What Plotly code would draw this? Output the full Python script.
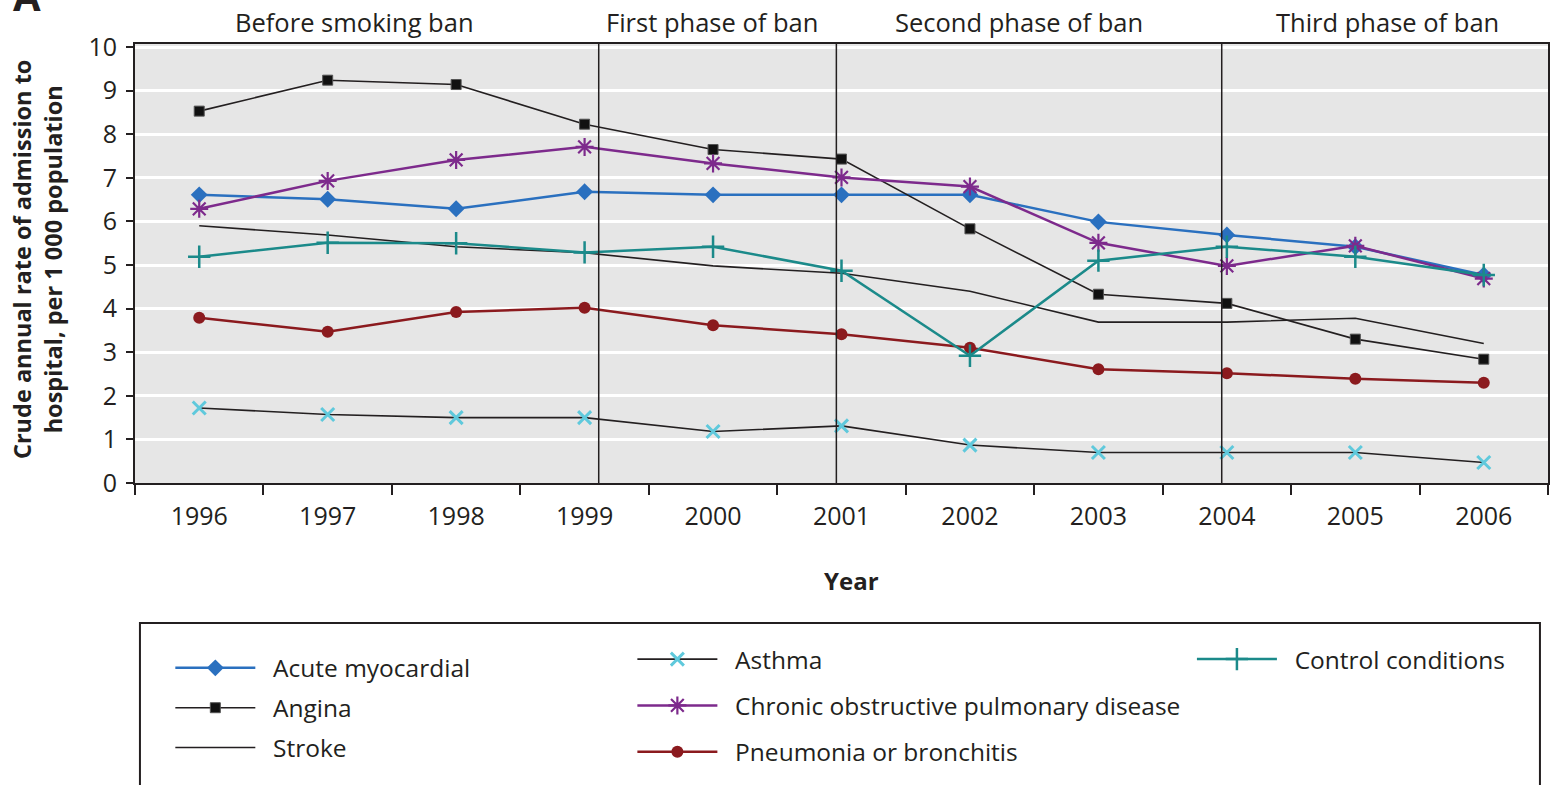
import plotly.graph_objects as go

years = [1996, 1997, 1998, 1999, 2000, 2001, 2002, 2003, 2004, 2005, 2006]

acute_myocardial = [6.61, 6.51, 6.29, 6.68, 6.61, 6.61, 6.61, 5.99, 5.69, 5.42, 4.77]
angina = [8.53, 9.24, 9.14, 8.23, 7.65, 7.43, 5.83, 4.33, 4.12, 3.30, 2.84]
stroke = [5.90, 5.69, 5.42, 5.28, 4.98, 4.81, 4.40, 3.69, 3.69, 3.78, 3.20]
asthma = [1.72, 1.57, 1.50, 1.50, 1.18, 1.31, 0.87, 0.70, 0.70, 0.70, 0.47]
copd = [6.29, 6.93, 7.41, 7.71, 7.33, 7.01, 6.80, 5.51, 4.98, 5.44, 4.69]
pneumonia = [3.79, 3.47, 3.92, 4.02, 3.62, 3.41, 3.10, 2.61, 2.52, 2.39, 2.30]
control = [5.19, 5.51, 5.50, 5.29, 5.42, 4.87, 2.92, 5.10, 5.42, 5.19, 4.77]

phase_lines = [1999.11, 2000.96, 2003.96]
phase_labels = ["Before smoking ban", "First phase of ban", "Second phase of ban", "Third phase of ban"]
phase_label_x = [1997.21, 1999.99, 2002.38, 2005.25]

FONT = "Open Sans"
TXT = "#231f20"
PAD = "\u00a0\u00a0"

fig = go.Figure()

# column 1 of the legend
fig.add_trace(go.Scatter(x=years, y=acute_myocardial, name=PAD + "Acute myocardial", mode="lines+markers",
                         line=dict(color="#2a70bf", width=2.5),
                         marker=dict(symbol="diamond", size=13, color="#2a70bf"),
                         legend="legend", legendgroup="a"))
fig.add_trace(go.Scatter(x=years, y=angina, name=PAD + "Angina", mode="lines+markers",
                         line=dict(color="#231f20", width=1.6),
                         marker=dict(symbol="square", size=10, color="#111111",
                                     line=dict(color="#555555", width=1)),
                         legend="legend", legendgroup="b"))
fig.add_trace(go.Scatter(x=years, y=stroke, name=PAD + "Stroke", mode="lines",
                         line=dict(color="#231f20", width=1.6),
                         legend="legend", legendgroup="c"))

# column 2
fig.add_trace(go.Scatter(x=years, y=asthma, name=PAD + "Asthma", mode="lines+markers",
                         line=dict(color="#231f20", width=1.6),
                         marker=dict(symbol="x-thin-open", size=13, color="#5fc9dc",
                                     line=dict(color="#5fc9dc", width=3)),
                         legend="legend2", legendgroup="d"))
fig.add_trace(go.Scatter(x=years, y=copd, name=PAD + "Chronic obstructive pulmonary disease",
                         mode="lines+markers",
                         line=dict(color="#7d2a8c", width=2.5),
                         marker=dict(symbol="asterisk-open", size=15, color="#7d2a8c",
                                     line=dict(color="#7d2a8c", width=2.2)),
                         legend="legend2", legendgroup="e"))
fig.add_trace(go.Scatter(x=years, y=pneumonia, name=PAD + "Pneumonia or bronchitis", mode="lines+markers",
                         line=dict(color="#8b1a1e", width=2.5),
                         marker=dict(symbol="circle", size=12, color="#8b1a1e"),
                         legend="legend2", legendgroup="f"))

# column 3
fig.add_trace(go.Scatter(x=years, y=control, name=PAD + "Control conditions", mode="lines+markers",
                         line=dict(color="#1b8a8a", width=2.5),
                         marker=dict(symbol="cross-thin-open", size=16, color="#1b8a8a",
                                     line=dict(color="#1b8a8a", width=2.5)),
                         legend="legend3", legendgroup="g"))

for xv in phase_lines:
    fig.add_shape(type="line", x0=xv, x1=xv, y0=0, y1=1, xref="x", yref="y domain",
                  line=dict(color="#231f20", width=1.5), layer="above")

for lab, xv in zip(phase_labels, phase_label_x):
    fig.add_annotation(text=lab, x=xv, y=1.05, xref="x", yref="paper", showarrow=False,
                       xanchor="center", yanchor="middle",
                       font=dict(size=25.5, color=TXT, family=FONT))

# legend frame (runs off the bottom of the page)
fig.add_shape(type="rect", x0=0.0035, x1=0.9943, y0=-0.319, y1=-0.75, xref="paper", yref="paper",
              line=dict(color="#231f20", width=2), fillcolor="rgba(0,0,0,0)")

fig.add_annotation(text="Crude annual rate of admission to<br>hospital, per 1 000 population",
                   x=-0.0686, y=0.508, xref="paper", yref="paper", textangle=-90, showarrow=False,
                   xanchor="center", yanchor="middle",
                   font=dict(size=23.5, color=TXT, family=FONT, weight="bold"))
fig.add_annotation(text="Year", x=0.507, y=-0.221, xref="paper", yref="paper", showarrow=False,
                   xanchor="center", yanchor="middle",
                   font=dict(size=24, color=TXT, family=FONT, weight="bold"))
# panel letter, mostly above the top edge as in the source figure
fig.add_annotation(text="A", x=-0.088, y=1.043, xref="paper", yref="paper", showarrow=False,
                   xanchor="left", yanchor="bottom",
                   font=dict(size=40, color=TXT, family=FONT, weight="bold"))

legend_common = dict(font=dict(size=24.5, color=TXT, family=FONT), bgcolor="rgba(0,0,0,0)",
                     itemwidth=80, xanchor="left", yanchor="top")

fig.update_layout(
    width=1555, height=785,
    margin=dict(l=135, r=7, t=44, b=302, autoexpand=False),
    paper_bgcolor="white", plot_bgcolor="#e6e6e6",
    font=dict(family=FONT, size=24, color=TXT),
    legend=dict(x=0.025, y=-0.37, tracegroupgap=5, **legend_common),
    legend2=dict(x=0.352, y=-0.35, tracegroupgap=11.5, **legend_common),
    legend3=dict(x=0.748, y=-0.35, tracegroupgap=11.5, **legend_common),
    xaxis=dict(range=[1995.5, 2006.5], tickmode="linear", tick0=1996, dtick=1, ticks="",
               showgrid=False, zeroline=False, showline=True, linecolor="#231f20", linewidth=2,
               mirror=True, ticklabelstandoff=10,
               tickfont=dict(size=25, color=TXT, family=FONT),
               minor=dict(tickmode="linear", tick0=1995.5, dtick=1, ticks="outside", ticklen=10,
                          tickwidth=1.5, tickcolor="#231f20", showgrid=False)),
    yaxis=dict(range=[0, 10.07], tickmode="linear", tick0=0, dtick=1, ticks="outside", ticklen=7,
               tickwidth=1.5, tickcolor="#231f20", showgrid=True, gridcolor="white", gridwidth=2.5,
               zeroline=False, showline=True, linecolor="#231f20", linewidth=2, mirror=True,
               ticklabelstandoff=4, tickfont=dict(size=25, color=TXT, family=FONT)),
)

# drop the browser's default 8 px page margin so the figure fills the window
fig.write_html("out.html", config={"displayModeBar": False},
               post_script="document.body.style.margin = '0';")
